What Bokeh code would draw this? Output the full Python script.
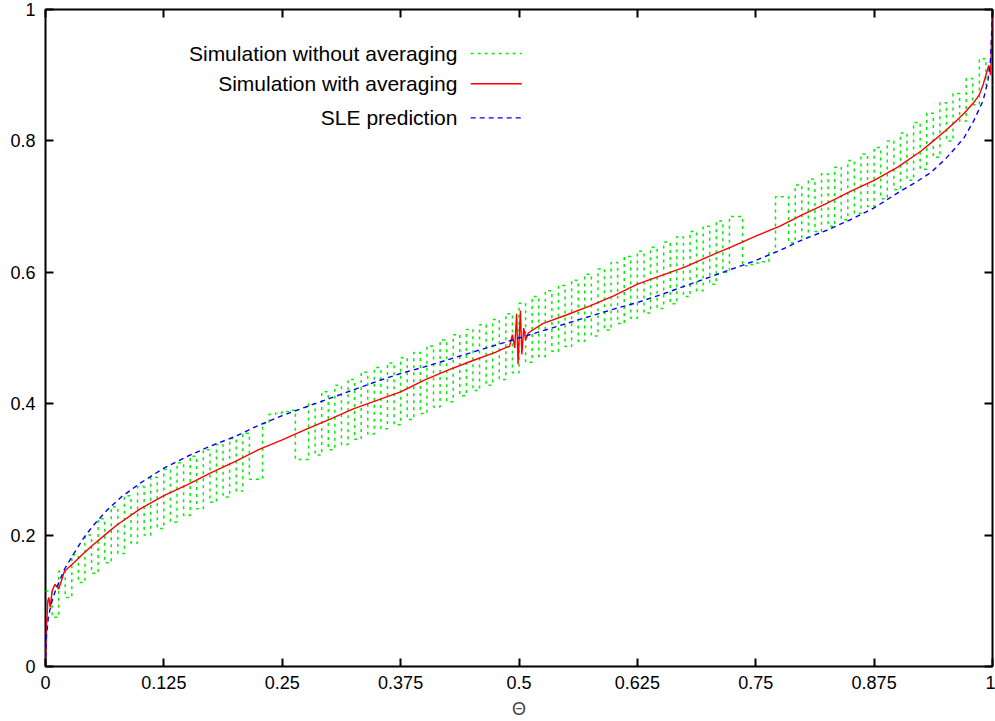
import numpy as np
from bokeh.plotting import figure
from bokeh.models import Range1d, LinearAxis, FixedTicker, Label
from bokeh.embed import file_html
from bokeh.resources import INLINE

# ---------------- data ----------------
x_ticks = [0, 0.125, 0.25, 0.375, 0.5, 0.625, 0.75, 0.875, 1]
x_tick_labels = ["0", "0.125", "0.25", "0.375", "0.5", "0.625", "0.75", "0.875", "1"]
y_ticks = [0, 0.2, 0.4, 0.6, 0.8, 1]
y_tick_labels = ["0", "0.2", "0.4", "0.6", "0.8", "1"]

# SLE prediction
theta_sle = [0, 0.001, 0.003, 0.006, 0.0106, 0.02, 0.03, 0.04, 0.05, 0.065, 0.08, 0.1,
             0.125, 0.15, 0.175, 0.2, 0.225, 0.25, 0.275, 0.3, 0.325, 0.35, 0.375, 0.4,
             0.425, 0.45, 0.475, 0.5, 0.525, 0.55, 0.575, 0.6, 0.625, 0.65, 0.675, 0.7,
             0.725, 0.75, 0.775, 0.8, 0.825, 0.85, 0.875, 0.9, 0.92, 0.935, 0.95, 0.96,
             0.97, 0.98, 0.99, 0.995, 0.998, 1.0]
sle = [0, 0.045, 0.075, 0.095, 0.116, 0.148, 0.172, 0.195, 0.214, 0.238, 0.258, 0.279,
       0.302, 0.320, 0.336, 0.350, 0.367, 0.382, 0.395, 0.408, 0.421, 0.434, 0.446, 0.456,
       0.467, 0.478, 0.489, 0.5, 0.511, 0.522, 0.533, 0.544, 0.554, 0.566, 0.579, 0.592,
       0.605, 0.618, 0.633, 0.650, 0.664, 0.680, 0.698, 0.721, 0.738, 0.752, 0.772, 0.788,
       0.805, 0.830, 0.861, 0.890, 0.925, 1.0]

# Simulation with averaging
theta_avg = [0, 0.001, 0.0025, 0.0035, 0.005, 0.007, 0.01, 0.014, 0.02, 0.03, 0.04, 0.05,
             0.065, 0.075, 0.1, 0.125, 0.15, 0.175, 0.2, 0.225, 0.25, 0.275, 0.3, 0.325,
             0.35, 0.375, 0.4, 0.425, 0.45, 0.475, 0.487, 0.490, 0.493, 0.4955, 0.4975,
             0.499, 0.5015, 0.503, 0.505, 0.507, 0.51, 0.525, 0.55, 0.575, 0.6, 0.625, 0.65,
             0.675, 0.7, 0.725, 0.75, 0.775, 0.8, 0.825, 0.85, 0.875, 0.9, 0.925, 0.935,
             0.95, 0.96, 0.97, 0.98, 0.986, 0.99, 0.993, 0.996, 0.998, 0.999, 1.0]
avg = [0, 0.06, 0.10, 0.105, 0.09, 0.115, 0.125, 0.118, 0.145, 0.158, 0.172, 0.185,
       0.203, 0.215, 0.240, 0.260, 0.277, 0.295, 0.312, 0.330, 0.345, 0.361, 0.376, 0.392,
       0.405, 0.418, 0.436, 0.451, 0.465, 0.478, 0.486, 0.487, 0.505, 0.485, 0.537,
       0.460, 0.542, 0.475, 0.515, 0.497, 0.508, 0.522, 0.535, 0.549, 0.564, 0.582, 0.595,
       0.608, 0.624, 0.639, 0.655, 0.670, 0.688, 0.705, 0.723, 0.740, 0.760, 0.785, 0.797,
       0.815, 0.828, 0.842, 0.858, 0.870, 0.885, 0.900, 0.915, 0.900, 0.950, 1.0]

# Simulation without averaging: plateau values on a grid of 144 equal steps in theta
raw_steps = 144
raw = [0.115, 0.075, 0.145, 0.105, 0.170, 0.128, 0.200, 0.142, 0.225, 0.158, 0.243, 0.172,
       0.260, 0.188, 0.274, 0.200, 0.288, 0.210, 0.300, 0.220, 0.310, 0.230, 0.320, 0.240,
       0.330, 0.250, 0.338, 0.258, 0.347, 0.267, 0.355, 0.285, 0.285, 0.370, 0.384, 0.386,
       0.388, 0.390, 0.315, 0.315, 0.400, 0.322, 0.418, 0.330, 0.428, 0.338, 0.437, 0.346,
       0.448, 0.354, 0.455, 0.362, 0.462, 0.368, 0.470, 0.376, 0.478, 0.385, 0.488, 0.395,
       0.497, 0.403, 0.505, 0.412, 0.513, 0.420, 0.520, 0.428, 0.528, 0.437, 0.537, 0.447,
       0.553, 0.463, 0.563, 0.472, 0.572, 0.480, 0.580, 0.487, 0.588, 0.495, 0.597, 0.503,
       0.605, 0.512, 0.615, 0.522, 0.624, 0.530, 0.632, 0.538, 0.638, 0.545, 0.646, 0.552,
       0.654, 0.563, 0.662, 0.572, 0.670, 0.582, 0.678, 0.600, 0.685, 0.685, 0.610, 0.612,
       0.614, 0.616, 0.630, 0.715, 0.715, 0.645, 0.733, 0.653, 0.742, 0.662, 0.750, 0.670,
       0.760, 0.680, 0.770, 0.690, 0.780, 0.700, 0.790, 0.712, 0.800, 0.726, 0.812, 0.740,
       0.828, 0.757, 0.842, 0.775, 0.858, 0.800, 0.872, 0.830, 0.895, 0.855, 0.925, 0.885]

legend_names = ["Simulation without averaging", "Simulation with averaging", "SLE prediction"]

# ---------------- figure ----------------
FONT = "Liberation Sans"
GREEN, RED, BLUE = "#00f000", "#ff0000", "#0000ff"

p = figure(width=995, height=721, output_backend="svg", toolbar_location=None,
           x_range=Range1d(0, 1), y_range=Range1d(0, 1),
           min_border_left=45, min_border_right=3, min_border_top=9, min_border_bottom=0)
p.grid.visible = False
p.outline_line_color = "black"
p.outline_line_width = 2
p.background_fill_color = "white"
p.border_fill_color = "white"

def style_axis(ax, ticks, labels, show):
    ax.ticker = FixedTicker(ticks=ticks)
    ax.axis_line_color = None
    ax.major_tick_in = 8
    ax.major_tick_out = 0
    ax.major_tick_line_width = 2
    ax.major_tick_line_color = "black"
    ax.minor_tick_line_color = None
    if show:
        ax.major_label_overrides = {t: l for t, l in zip(ticks, labels)}
        ax.major_label_text_font = FONT
        ax.major_label_text_font_size = "18px"
        ax.major_label_text_color = "black"
    else:
        ax.major_label_overrides = {t: "" for t in ticks}
        ax.major_label_text_font_size = "1px"
        ax.major_label_standoff = 0

style_axis(p.xaxis[0], x_ticks, x_tick_labels, True)
style_axis(p.yaxis[0], y_ticks, y_tick_labels, True)
p.xaxis[0].major_label_standoff = 9
p.yaxis[0].major_label_standoff = 10
p.xaxis[0].axis_label = "Θ"
p.xaxis[0].axis_label_text_font = FONT
p.xaxis[0].axis_label_text_font_size = "18px"
p.xaxis[0].axis_label_text_font_style = "normal"
p.xaxis[0].axis_label_standoff = 7

top_ax = LinearAxis()
right_ax = LinearAxis()
style_axis(top_ax, x_ticks, x_tick_labels, False)
style_axis(right_ax, y_ticks, y_tick_labels, False)
p.add_layout(top_ax, "above")
p.add_layout(right_ax, "right")

# green step (plateau) line
edges = np.arange(raw_steps + 1) / raw_steps
gx, gy = [], []
for i, v in enumerate(raw):
    gx += [edges[i], edges[i + 1]]
    gy += [v, v]
p.line(gx, gy, line_color=GREEN, line_width=1.5, line_dash="3 4")
p.line(theta_avg, avg, line_color=RED, line_width=1.4)
p.line(theta_sle, sle, line_color=BLUE, line_width=1.4, line_dash="5 4")

# legend (text on the left, sample on the right, gnuplot style)
leg_text_x = 0.435
leg_x0, leg_x1 = 0.449, 0.503
leg_rows = [0.933, 0.887, 0.835]
styles = [(GREEN, "3 4"), (RED, "solid"), (BLUE, "5 4")]
for name, yy, (col, dash) in zip(legend_names, leg_rows, styles):
    p.add_layout(Label(x=leg_text_x, y=yy, text=name, text_align="right",
                       text_baseline="middle", text_font=FONT,
                       text_font_size="21px", text_color="black"))
    p.line([leg_x0, leg_x1], [yy, yy], line_color=col, line_width=1.4, line_dash=dash)

open("out.html", "w").write(file_html(p, INLINE))
